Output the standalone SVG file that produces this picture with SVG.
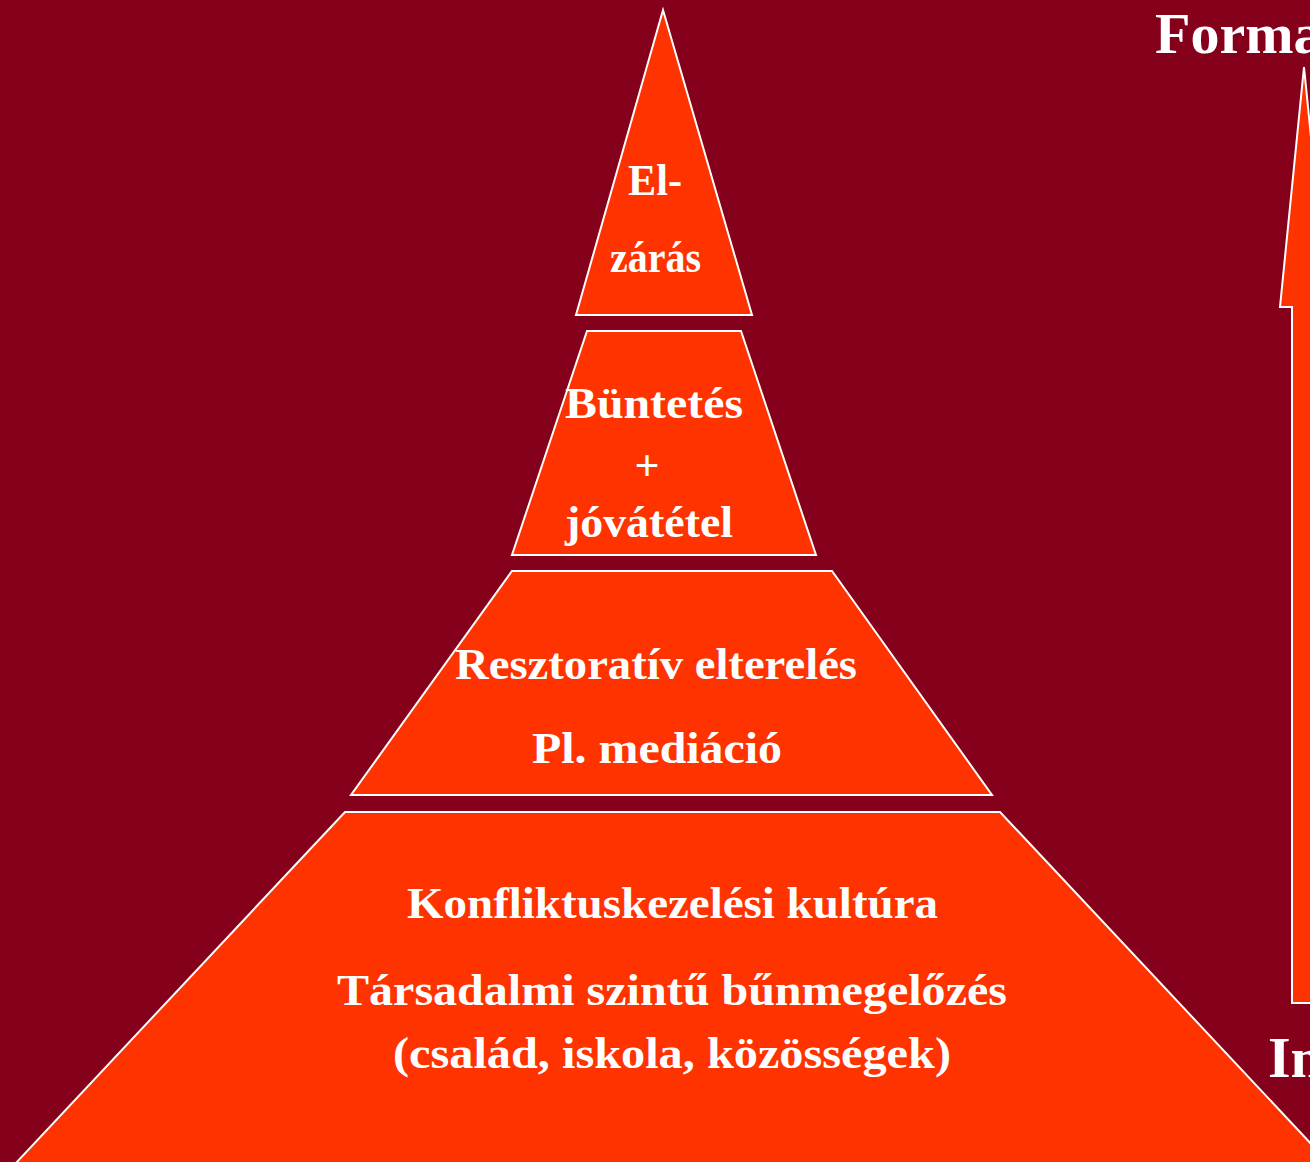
<svg xmlns="http://www.w3.org/2000/svg" width="1310" height="1162" viewBox="0 0 1310 1162">
<style>
.seg{fill:#FF3300;stroke:#FFFFFF;stroke-width:2}
.t{font-family:"Liberation Serif","Times New Roman",serif;font-weight:bold;fill:#FFFFFF;font-size:44px;text-anchor:middle}
.side{font-family:"Liberation Serif","Times New Roman",serif;font-weight:bold;fill:#FFFFFF;font-size:58px}
</style>
<rect x="0" y="0" width="1310" height="1162" fill="#85001B"/>
<g id="level-top">
<polygon class="seg" points="663,10 752,315 576,315"/>
<text class="t" x="655" y="195" textLength="54" lengthAdjust="spacingAndGlyphs">El-</text>
<text class="t" x="655.5" y="272" textLength="91" lengthAdjust="spacingAndGlyphs">zárás</text>
</g>
<g id="level-2">
<polygon class="seg" points="587,331 741,331 816,555 512,555"/>
<text class="t" x="654" y="418" textLength="178" lengthAdjust="spacingAndGlyphs">Büntetés</text>
<text class="t" x="647" y="480">+</text>
<text class="t" x="649" y="537" textLength="168" lengthAdjust="spacingAndGlyphs">jóvátétel</text>
</g>
<g id="level-3">
<polygon class="seg" points="512,571 832,571 992,795 351,795"/>
<text class="t" x="656" y="679" textLength="402" lengthAdjust="spacingAndGlyphs">Resztoratív elterelés</text>
<text class="t" x="657" y="763" textLength="250" lengthAdjust="spacingAndGlyphs">Pl. mediáció</text>
</g>
<g id="level-base">
<polygon class="seg" points="345,812 1000,812 1375,1212 -30,1212"/>
<text class="t" x="672.5" y="918" textLength="531" lengthAdjust="spacingAndGlyphs">Konfliktuskezelési kultúra</text>
<text class="t" x="672" y="1005" textLength="670" lengthAdjust="spacingAndGlyphs">Társadalmi szintű bűnmegelőzés</text>
<text class="t" x="672" y="1068" textLength="558" lengthAdjust="spacingAndGlyphs">(család, iskola, közösségek)</text>
</g>
<g id="connectors">
<polygon class="seg" points="1304,67 1328,307 1316,307 1316,1003 1292,1003 1292,307 1280,307"/>
</g>
<g id="labels">
<text class="side" x="1155" y="53">Forma</text>
<text class="side" x="1268" y="1077">In</text>
</g>
</svg>
